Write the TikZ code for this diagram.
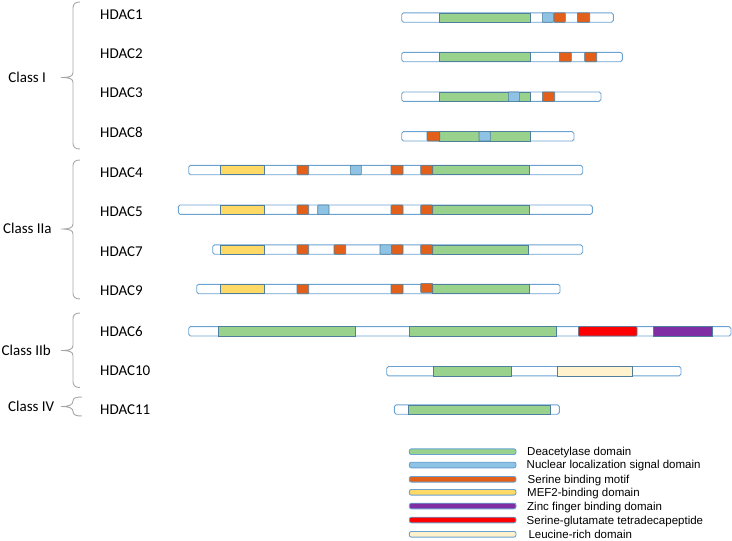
\documentclass[tikz,border=0pt]{standalone}
\usepackage{fontspec}
\setmainfont{Carlito}
\newfontfamily\legfont{Liberation Sans}
\definecolor{barblue}{HTML}{6AA2D2}
\definecolor{domedge}{HTML}{4F7F9A}
\definecolor{dgreen}{HTML}{98D28C}
\definecolor{dorange}{HTML}{E2601A}
\definecolor{dblue}{HTML}{8EC3E6}
\definecolor{dyellow}{HTML}{FFD966}
\definecolor{dpurple}{HTML}{7F2FA3}
\definecolor{dred}{HTML}{FF0000}
\definecolor{dleu}{HTML}{FFF2CC}
\definecolor{bracegray}{HTML}{A6A6A6}
\newcommand\pbar[3]{\draw[prot] (#2,#1-4.7) rectangle (#3,#1+4.7);}
\newcommand\dm[4]{\draw[#1] (#3,#2-4.7) rectangle (#4,#2+4.7);}
\newcommand\lgbar[2]{\draw[lgb,fill=#1] (409.3,#2-2.8) rectangle (516,#2+2.8);}
\newcommand\cbrace[3]{\draw[brace] (80,#1) .. controls (75,#1) and (73,#1+2) .. (73,#1+6) -- (73,#3-5) .. controls (73,#3-1) and (69,#3) .. (61,#3) .. controls (69,#3) and (73,#3+1) .. (73,#3+5) -- (73,#2-6) .. controls (73,#2-2) and (75,#2) .. (80,#2);}
\begin{document}
\begin{tikzpicture}[x=1pt,y=-1pt,
  prot/.style={draw=barblue, fill=white, line width=0.9pt, rounded corners=1.8pt},
  dom/.style={draw=domedge, line width=0.6pt},
  grn/.style={dom, fill=dgreen},
  org/.style={dom, fill=dorange, rounded corners=0.8pt},
  blu/.style={dom, fill=dblue, rounded corners=0.8pt},
  yel/.style={dom, fill=dyellow},
  pur/.style={dom, fill=dpurple},
  rd/.style={dom, fill=dred, rounded corners=1pt},
  leu/.style={dom, fill=dleu},
  lgb/.style={draw=barblue, line width=0.9pt, rounded corners=2pt},
  lab/.style={anchor=west, inner sep=0pt, font=\fontsize{15}{15}\selectfont},
  leg/.style={anchor=base west, inner sep=0pt, font=\legfont\fontsize{11.5}{12}\selectfont},
  brace/.style={draw=bracegray, line width=0.9pt}
]
\useasboundingbox (0,0) rectangle (732,541);

% class labels
\node[lab] (c1) at (8.3,77.5) {Class I};
\node[lab] (c2a) at (3,228) {Class IIa};
\node[lab] (c2b) at (1.5,350.7) {Class IIb};
\node[lab] (c4) at (8,406.5) {Class IV};

% braces
\cbrace{2}{149}{77.5}
\cbrace{160}{299}{229}
\cbrace{313}{387.5}{350.5}
\draw[brace] (82,397) .. controls (76,397) and (73,398) .. (73,401) .. controls (73,405) and (69,406.5) .. (61,406.5) .. controls (69,406.5) and (73,408) .. (73,411.5) .. controls (73,415) and (76,416) .. (82,416);

% HDAC labels
\node[lab] (h1) at (100,14.3) {HDAC1};
\node[lab] (h2) at (100,53.3) {HDAC2};
\node[lab] (h3) at (100,92.7) {HDAC3};
\node[lab] (h8) at (100,132.7) {HDAC8};
\node[lab] (h4) at (100,172.7) {HDAC4};
\node[lab] (h5) at (100,212) {HDAC5};
\node[lab] (h7) at (100,251.3) {HDAC7};
\node[lab] (h9) at (100,290.7) {HDAC9};
\node[lab] (h6) at (100,331) {HDAC6};
\node[lab] (h10) at (100,371) {HDAC10};
\node[lab] (h11) at (100,409.3) {HDAC11};

% HDAC1
\pbar{17.5}{401.7}{613.3}
\dm{grn}{17.5}{439.3}{530}
\dm{blu}{17.5}{542.3}{553.3}
\dm{org}{17.5}{554}{565.3}
\dm{org}{17.5}{577.3}{589.7}
% HDAC2
\pbar{57}{401.7}{622.3}
\dm{grn}{57}{439.3}{530}
\dm{org}{57}{559.3}{571.3}
\dm{org}{57}{584.7}{596.7}
% HDAC3
\pbar{96.7}{401.7}{601}
\dm{grn}{96.7}{439.3}{530}
\dm{blu}{96.7}{508.3}{519.3}
\dm{org}{96.7}{542.3}{554.7}
% HDAC8
\pbar{136.3}{401.7}{574}
\dm{grn}{136.3}{439.7}{530}
\dm{org}{136.3}{427}{439.7}
\dm{blu}{136.3}{479}{490.3}
% HDAC4
\pbar{170}{188.7}{582.7}
\dm{yel}{170}{220.7}{264.7}
\dm{org}{170}{297}{308.7}
\dm{blu}{170}{350.3}{361.3}
\dm{org}{170}{391}{403}
\dm{grn}{170}{432.7}{529.7}
\dm{org}{170}{420.7}{432.7}
% HDAC5
\pbar{209.7}{178.3}{592.3}
\dm{yel}{209.7}{220.7}{264.7}
\dm{org}{209.7}{297}{308.7}
\dm{blu}{209.7}{317.7}{329}
\dm{org}{209.7}{391}{403}
\dm{grn}{209.7}{432.7}{529.7}
\dm{org}{209.7}{420.7}{432.7}
% HDAC7
\pbar{249.5}{212.7}{582.7}
\dm{yel}{249.5}{220.7}{264.7}
\dm{org}{249.5}{297}{308.7}
\dm{org}{249.5}{334}{345.7}
\dm{blu}{249.5}{380}{391.7}
\dm{org}{249.5}{391.7}{403}
\dm{grn}{249.5}{432.7}{528.7}
\dm{org}{249.5}{420.7}{432.7}
% HDAC9
\pbar{289}{196.7}{560}
\dm{yel}{289}{220.7}{264.7}
\dm{org}{289}{297}{308.7}
\dm{org}{289}{391}{403}
\dm{grn}{289}{432.7}{529.7}
\dm{org}{288}{420.7}{432.7}
% HDAC6
\pbar{331.3}{188.7}{731}
\dm{grn}{331.3}{218.3}{355.3}
\dm{grn}{331.3}{409.3}{556.7}
\dm{rd}{331.3}{578.3}{637}
\dm{pur}{331.3}{653.3}{712.7}
% HDAC10
\pbar{371.2}{386.7}{681}
\dm{grn}{371.2}{433.3}{511.7}
\dm{leu}{371.2}{557.3}{632.7}
% HDAC11
\pbar{409.5}{394.3}{559.3}
\dm{grn}{409.5}{408.3}{550.7}

% legend
\lgbar{dgreen}{451.7}
\lgbar{dblue}{465}
\lgbar{dorange}{479.3}
\lgbar{dyellow}{492.3}
\lgbar{dpurple}{506}
\lgbar{dred}{520}
\lgbar{dleu}{534.3}
\node[leg] (l1) at (527,455.3) {Deacetylase domain};
\node[leg] (l2) at (526.5,468.7) {Nuclear localization signal domain};
\node[leg] (l3) at (527.5,483) {Serine binding motif};
\node[leg] (l4) at (527,496.5) {MEF2-binding domain};
\node[leg] (l5) at (527,510.3) {Zinc finger binding domain};
\node[leg] (l6) at (526.5,524) {Serine-glutamate tetradecapeptide};
\node[leg] (l7) at (528.3,538.8) {Leucine-rich domain};
\end{tikzpicture}
\end{document}
